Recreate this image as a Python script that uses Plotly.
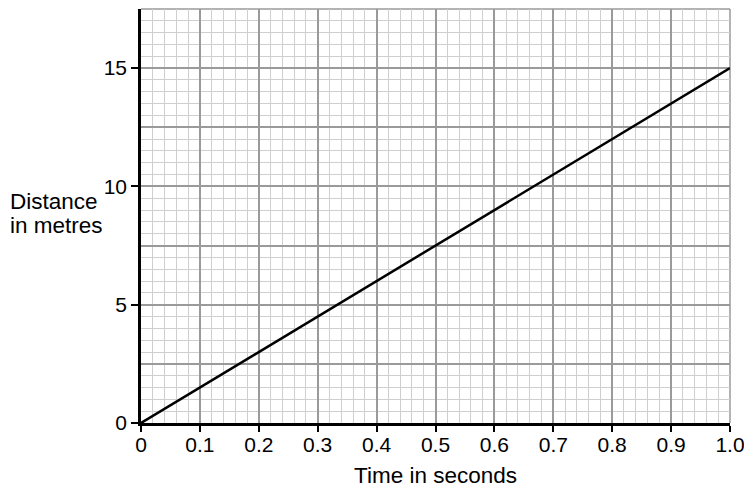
import plotly.graph_objects as go

time_s = [0.0, 1.0]
distance_m = [0.0, 15.0]
x_tick_vals = [0, 0.1, 0.2, 0.3, 0.4, 0.5, 0.6, 0.7, 0.8, 0.9, 1.0]
x_tick_text = ["0", "0.1", "0.2", "0.3", "0.4", "0.5", "0.6", "0.7", "0.8", "0.9", "1.0"]
y_tick_vals = [0, 5, 10, 15]
y_tick_text = ["0", "5", "10", "15"]
y_title_lines = ["Distance", "in metres"]
x_title = "Time in seconds"

FONT = "Liberation Sans, Arial, sans-serif"
MAJOR = "#9a9a9a"
MINOR = "#cfcfcf"

fig = go.Figure()
fig.add_trace(go.Scatter(x=time_s, y=distance_m, mode="lines",
                         line=dict(color="black", width=2.5),
                         showlegend=False, hoverinfo="skip"))
fig.add_trace(go.Scatter(x=time_s, y=distance_m, yaxis="y2", mode="lines",
                         line=dict(color="rgba(0,0,0,0)", width=0),
                         showlegend=False, hoverinfo="skip"))

fig.update_layout(
    width=744, height=486,
    margin=dict(l=133, r=22, t=1, b=71),
    paper_bgcolor="white", plot_bgcolor="white",
    font=dict(family=FONT, size=21, color="black"),
    xaxis=dict(
        range=[0, 1.0], tickvals=x_tick_vals, ticktext=x_tick_text,
        showgrid=True, gridcolor=MAJOR, gridwidth=1.5,
        minor=dict(dtick=0.02, showgrid=True, gridcolor=MINOR, gridwidth=1),
        ticks="outside", ticklen=6, tickwidth=1.5, tickcolor="black",
        showline=True, linecolor="black", linewidth=2.5,
        zeroline=False, tickfont=dict(size=21), ticklabelstandoff=-5,
    ),
    yaxis=dict(
        range=[0, 17.5], dtick=2.5, tick0=0,
        showgrid=True, gridcolor=MAJOR, gridwidth=1.5,
        minor=dict(dtick=0.5, showgrid=True, gridcolor=MINOR, gridwidth=1),
        showticklabels=False, ticks="",
        showline=False, zeroline=False,
    ),
    yaxis2=dict(
        range=[0, 17.5], overlaying="y", side="left",
        tickvals=y_tick_vals, ticktext=y_tick_text,
        showgrid=False, zeroline=False,
        ticks="outside", ticklen=7, tickwidth=1.5, tickcolor="black",
        showline=True, linecolor="black", linewidth=2.5,
        tickfont=dict(size=21),
    ),
    shapes=[
        dict(type="line", xref="paper", yref="paper", x0=0, x1=1, y0=1, y1=1,
             line=dict(color=MAJOR, width=1.5), layer="below"),
        dict(type="line", xref="paper", yref="paper", x0=1, x1=1, y0=0, y1=1,
             line=dict(color=MAJOR, width=1.5), layer="below"),
    ],
    annotations=[
        dict(text=y_title_lines[0], xref="paper", yref="paper",
             x=-0.2258, y=0.536, xanchor="left", yanchor="middle",
             showarrow=False, font=dict(size=22.5)),
        dict(text=y_title_lines[1], xref="paper", yref="paper",
             x=-0.2258, y=0.478, xanchor="left", yanchor="middle",
             showarrow=False, font=dict(size=22.5)),
        dict(text=x_title, xref="paper", yref="paper",
             x=0.5, y=-0.128, xanchor="center", yanchor="middle",
             showarrow=False, font=dict(size=22.5)),
    ],
)

fig.write_html("out.html")
